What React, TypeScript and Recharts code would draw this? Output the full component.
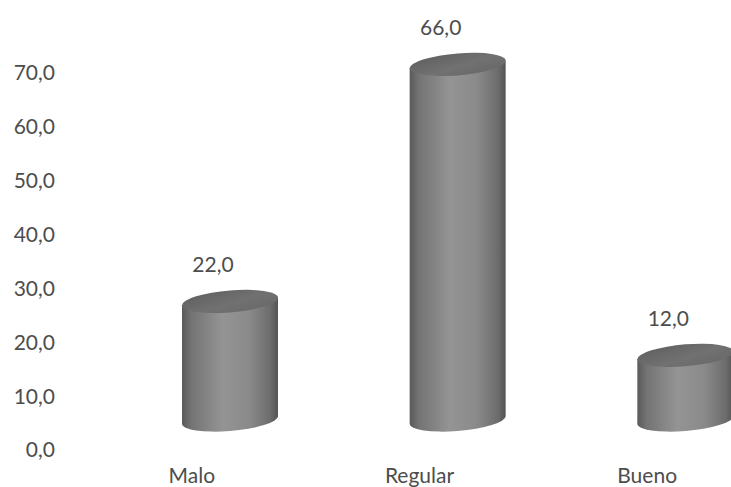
import React from "react";
import { BarChart, Bar, XAxis, YAxis, LabelList } from "recharts";

// Survey rating distribution (%)
const categories = ["Malo", "Regular", "Bueno"];
const percentages = [22.0, 66.0, 12.0];
const yTicks = [0, 10, 20, 30, 40, 50, 60, 70];

const data = categories.map((name, i) => ({ name, value: percentages[i] }));

const FONT = "Lato, 'Open Sans', sans-serif";
const TEXT = "#4d4d4d";
// 3D depth offset of the cylinders relative to the axis plane
const DEPTH_X = 38;
const DEPTH_Y = -30;
const RY = 11;
const TILT = -4.5;

const fmt = (v: number) => v.toFixed(1).replace(".", ",");

const Cylinder = (props: any) => {
  const { x, y, width, height } = props;
  const left = x + DEPTH_X;
  const right = left + width;
  const rx = width / 2;
  const cx = left + rx;
  const top = y + DEPTH_Y;
  const bottom = y + height + DEPTH_Y;
  const cy = (top + bottom) / 2;
  const body = `M${left},${top} L${left},${bottom} A${rx},${RY} 0 0 0 ${right},${bottom} L${right},${top} Z`;
  return (
    <g transform={`translate(${cx},${cy}) skewY(${TILT}) translate(${-cx},${-cy})`}>
      <path d={body} fill="url(#cylBody)" />
      <ellipse cx={cx} cy={top} rx={rx} ry={RY} fill="url(#cylTop)" />
    </g>
  );
};

const ValueLabel = (props: any) => {
  const { x, y, width, value } = props;
  return (
    <text
      x={x + width / 2 + 21}
      y={y - 68}
      textAnchor="middle"
      dominantBaseline="central"
      fill={TEXT}
      fontFamily={FONT}
      fontSize={21}
    >
      {fmt(value)}
    </text>
  );
};

export default function App() {
  return (
    <div
      style={{
        position: "absolute",
        left: 0,
        top: 0,
        width: 731,
        height: 487,
        overflow: "hidden",
        background: "#ffffff",
      }}
    >
      <BarChart
        width={761}
        height={487}
        data={data}
        margin={{ top: 19, right: 0, bottom: 0, left: 0 }}
      >
        <defs>
          <linearGradient id="cylBody" x1="0" y1="0" x2="1" y2="0">
            <stop offset="0%" stopColor="#5a5a5a" />
            <stop offset="10%" stopColor="#747474" />
            <stop offset="42%" stopColor="#949494" />
            <stop offset="70%" stopColor="#8a8a8a" />
            <stop offset="92%" stopColor="#6c6c6c" />
            <stop offset="100%" stopColor="#545454" />
          </linearGradient>
          <linearGradient id="cylTop" x1="0" y1="0" x2="1" y2="1">
            <stop offset="0%" stopColor="#5e5e5e" />
            <stop offset="55%" stopColor="#717171" />
            <stop offset="100%" stopColor="#676767" />
          </linearGradient>
        </defs>
        <XAxis
          dataKey="name"
          axisLine={false}
          tickLine={false}
          tickSize={0}
          tickMargin={18}
          height={37}
          padding={{ left: 16, right: 0 }}
          tick={{ fill: TEXT, fontFamily: FONT, fontSize: 21 }}
          interval={0}
        />
        <YAxis
          domain={[0, 80]}
          ticks={yTicks}
          width={62}
          axisLine={false}
          tickLine={false}
          tickSize={0}
          tickMargin={7}
          tickFormatter={fmt}
          tick={{ fill: TEXT, fontFamily: FONT, fontSize: 21 }}
        />
        <Bar
          dataKey="value"
          barSize={96}
          shape={<Cylinder />}
          isAnimationActive={false}
        >
          <LabelList dataKey="value" content={<ValueLabel />} />
        </Bar>
      </BarChart>
    </div>
  );
}
